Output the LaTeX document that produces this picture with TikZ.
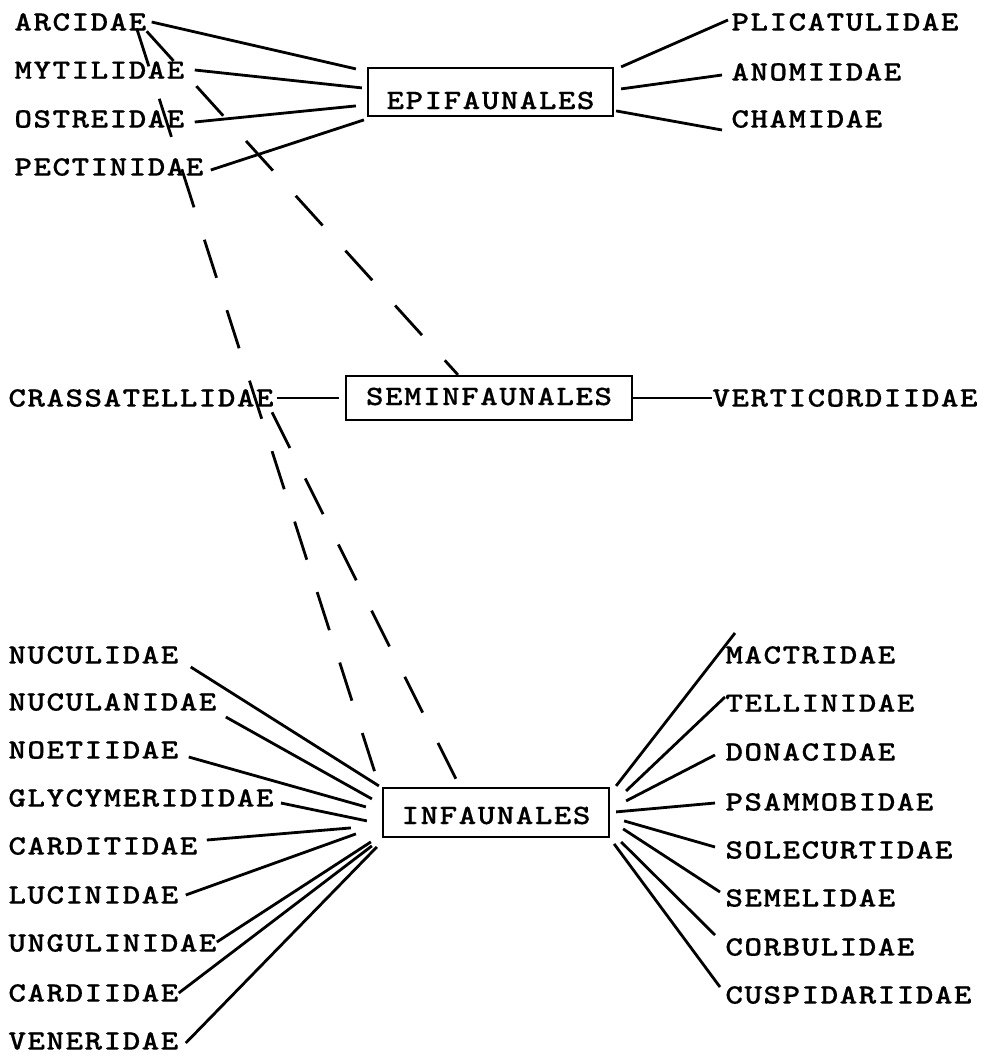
\documentclass[tikz,border=0pt]{standalone}
\usepackage{fontspec}
\usetikzlibrary{calc}
\newfontfamily\typew{lmmonolt10-bold.otf}[FakeStretch=1.2, LetterSpace=5, FakeBold=0.4]
\tikzset{
  fam/.style={font=\typew\fontsize{14}{16}\selectfont, inner sep=0pt, anchor=west},
  grp/.style={fam, draw, line width=1.1pt, anchor=center, text depth=0pt},
  lnk/.style={line width=1.4pt},
  alt/.style={lnk, dash pattern=on 20pt off 17pt},
}

\begin{document}
\begin{tikzpicture}[x=0.5pt, y=-0.5pt]
\useasboundingbox (0,0) rectangle (997,1056);
% ecological groups
\node[grp, minimum width=122.5pt, minimum height=24pt, text height=17pt] (epi) at (490.5,92) {EPIFAUNALES};
\node[grp, minimum width=143pt, minimum height=22pt, text height=7pt] (semi) at (489,398) {SEMINFAUNALES};
\node[grp, minimum width=113pt, minimum height=24.5pt, text height=11.5pt] (inf) at (496,812.5) {INFAUNALES};
% families
\foreach \n/\t/\y in {arc/ARCIDAE/22, myt/MYTILIDAE/70, ost/OSTREIDAE/119, pec/PECTINIDAE/167}
  \node[fam] (\n) at (14,\y) {\t};
\foreach \n/\t/\y in {plc/PLICATULIDAE/22, ano/ANOMIIDAE/72, cha/CHAMIDAE/119}
  \node[fam] (\n) at (731,\y) {\t};
\node[fam] (crs) at (8,398) {CRASSATELLIDAE};
\node[fam] (ver) at (712,398) {VERTICORDIIDAE};
\foreach \n/\t/\y in {nuc/NUCULIDAE/655, ncl/NUCULANIDAE/702, noe/NOETIIDAE/750, gly/GLYCYMERIDIDAE/798,
  crd/CARDITIDAE/846, luc/LUCINIDAE/895, ung/UNGULINIDAE/943, crdi/CARDIIDAE/993, ven/VENERIDAE/1041}
  \node[fam] (\n) at (8,\y) {\t};
\foreach \n/\t/\y in {mac/MACTRIDAE/655, tel/TELLINIDAE/703, don/DONACIDAE/752, psa/PSAMMOBIDAE/802,
  sol/SOLECURTIDAE/850, seml/SEMELIDAE/898, cor/CORBULIDAE/947, cus/CUSPIDARIIDAE/995}
  \node[fam] (\n) at (725,\y) {\t};
% solid links
\foreach \a/\sx/\sy/\ex/\ey in {arc/5/0/-11/2, myt/10/0/-5/21, ost/10/3/-11/39, pec/7/3/-3/53}
  \draw[lnk] ($(\a.east)+(\sx,\sy)$) -- ($(epi.north west)+(\ex,\ey)$);
\foreach \b/\sx/\sy/\ex/\ey in {plc/7/0/-3/-2, ano/7/22/-9/3, cha/2/44/-9/11}
  \draw[lnk] ($(epi.north east)+(\sx,\sy)$) -- ($(\b.west)+(\ex,\ey)$);
\draw[lnk] ($(crs.east)+(3,0)$) -- ($(semi.west)+(-6,0)$);
\draw[lnk] (semi.east) -- (ver.west);
\foreach \a/\sx/\sy/\ex/\ey in {nuc/12/12/-3/-1, ncl/9/15/-10/12, noe/10/7/-16/20, gly/7/5/-15/34,
  crd/9/-6/-31/41, luc/7/0/-26/47, ung/0/-1/-11/55, crdi/0/0/-10/59, ven/7/2/-5/60}
  \draw[lnk] ($(\a.east)+(\sx,\sy)$) -- ($(inf.north west)+(\ex,\ey)$);
\foreach \b/\sx/\sy/\ex/\ey in {mac/6/-1/10/-22, tel/16/4/0/-6, don/16/14/-10/3, psa/6/25/-10/1,
  sol/14/34/-10/-3, seml/13/42/-5/-6, cor/11/55/-10/-12, cus/4/57/-5/-8}
  \draw[lnk] ($(inf.north east)+(\sx,\sy)$) -- ($(\b.west)+(\ex,\ey)$);
% dashed links
\draw[alt] ($(arc.south east)+(-10,-3)$) -- ($(inf.north west)+(-3,-2)$);
\draw[alt] (arc.south east) -- ($(semi.north)+(-31,0)$);
\draw[alt] ($(crs.south east)+(-2,5)$) -- ($(inf.north)+(-36,0)$);
\end{tikzpicture}
\end{document}
